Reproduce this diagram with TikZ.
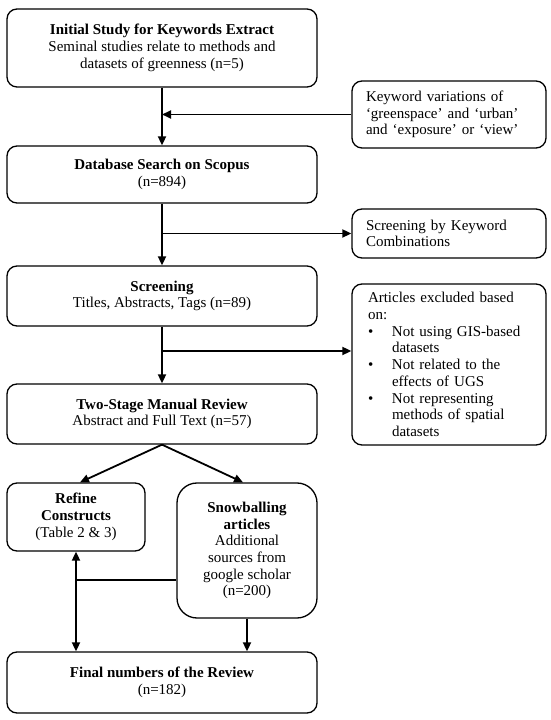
\documentclass[tikz,border=0pt]{standalone}
\usepackage{fontspec}
\setmainfont{Liberation Serif}
\usetikzlibrary{arrows.meta,calc}
\newcommand{\myleadA}{\hspace*{14pt}}
\newcommand{\myleadB}{\hspace*{16pt}}
\newcommand{\mybul}{\hspace*{16pt}\makebox[24pt][l]{\textbullet}}
\newcommand{\myhang}{\hspace*{40pt}}
\begin{document}
\begin{tikzpicture}[x=1pt,y=1pt,
  box/.style={draw, line width=1.3pt, rounded corners=10pt, align=center,
    font=\fontsize{15}{16.7}\selectfont, inner sep=0pt},
  mainbox/.style={box, minimum width=310pt},
  sidebox/.style={box, align=left, text width=194pt, minimum width=194pt},
  tip/.style={-{Triangle[length=9pt,width=8pt]}},
  conn/.style={line width=1.8pt, tip},
  plainline/.style={line width=1.8pt}]
\useasboundingbox (0,0) rectangle (550,720);
\fill[white] (0,0) rectangle (550,720);

\node[mainbox, minimum height=78pt] (b1) at (162,672)
  {\textbf{Initial Study for Keywords Extract}\\Seminal studies relate to methods and\\datasets of greenness (n=5)};
\node[sidebox, minimum height=67pt] (kw) at (449,605.5)
  {\myleadA Keyword variations of\\\myleadA‘greenspace’ and ‘urban’\\\myleadA and ‘exposure’ or ‘view’};
\node[mainbox, minimum height=57pt] (b2) at (162,545.5)
  {\textbf{Database Search on Scopus}\\(n=894)};
\node[sidebox, minimum height=49pt] (sk) at (449,486.5)
  {\myleadA Screening by Keyword\\\myleadA Combinations};
\node[mainbox, minimum height=60pt] (b3) at (162,424)
  {\textbf{Screening}\\Titles, Abstracts, Tags (n=89)};
\node[sidebox, minimum height=161pt] (ex) at (449,355.5)
  {\myleadB Articles excluded based\\
   \myleadB on:\\
   \mybul Not using GIS-based\\
   \myhang datasets\\
   \mybul Not related to the\\
   \myhang effects of UGS\\
   \mybul Not representing\\
   \myhang methods of spatial\\
   \myhang datasets};
\node[mainbox, minimum height=60pt] (b4) at (162,306)
  {\textbf{Two-Stage Manual Review}\\Abstract and Full Text (n=57)};
\node[box, minimum width=138pt, minimum height=68pt] (rf) at (76,203)
  {\textbf{Refine}\\\textbf{Constructs}\\(Table 2 \& 3)};
\node[box, rounded corners=20pt, minimum width=140pt, minimum height=135pt] (sb) at (247,169.5)
  {\textbf{Snowballing}\\\textbf{articles}\\Additional\\sources from\\google scholar\\(n=200)};
\node[mainbox, minimum height=61pt] (fn) at (162,37.5)
  {\textbf{Final numbers of the Review}\\(n=182)};

\draw[conn] (b1.south) -- (b2.north);
\draw[conn] (kw.west) -- (kw.west -| b1.south);
\draw[conn] (b2.south) -- (b3.north);
\draw[conn] (b2.south |- sk.west) -- (sk.west);
\draw[conn] (b3.south) -- (b4.north);
\coordinate (exa) at (162,369);
\draw[conn] (exa) -- (exa -| ex.west);
\draw[conn] (b4.south) -- ($(rf.north)+(4,0)$);
\draw[conn] (b4.south) -- ($(sb.north)+(-4,0)$);
\coordinate (j) at ($(rf.south |- 0,140)$);
\draw[conn] (j) -- (rf.south);
\draw[conn] (j) -- (rf.south |- fn.north);
\draw[plainline] (j) -- (j -| sb.west);
\draw[conn] (sb.south) -- (sb.south |- fn.north);
\end{tikzpicture}
\end{document}
